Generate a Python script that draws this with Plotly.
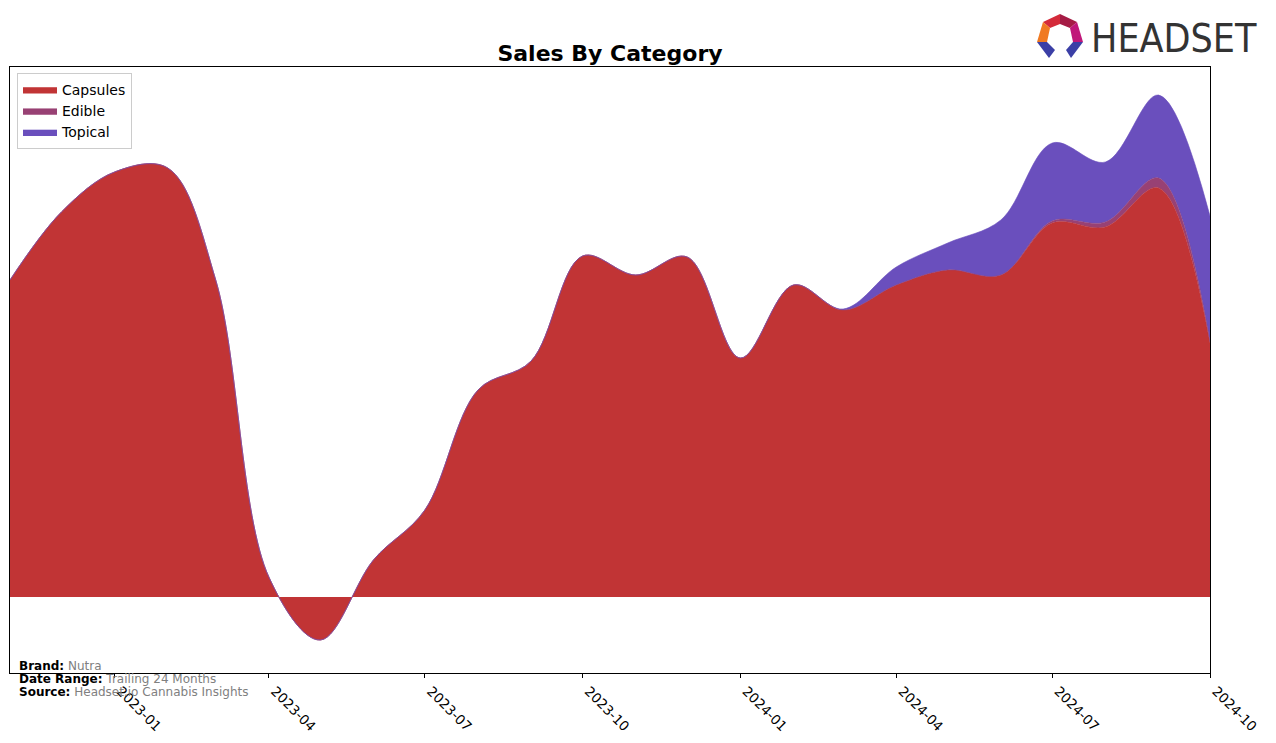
import plotly.graph_objects as go

months = ["2022-11-01", "2022-12-01", "2023-01-01", "2023-02-01", "2023-03-01", "2023-04-01",
          "2023-05-01", "2023-06-01", "2023-07-01", "2023-08-01", "2023-09-01", "2023-10-01",
          "2023-11-01", "2023-12-01", "2024-01-01", "2024-02-01", "2024-03-01", "2024-04-01",
          "2024-05-01", "2024-06-01", "2024-07-01", "2024-08-01", "2024-09-01", "2024-10-01"]

capsules = [317, 385, 425, 429, 317, 20, -43, 37, 87, 207, 236, 341,
            322, 340, 239, 312, 287, 312, 327, 322, 374, 370, 409, 254]
edible = [0, 0, 0, 0, 0, 0, 0, 0, 0, 0, 0, 0,
          0, 0, 0, 0, 0, 0, 0, 0, 2, 5, 10, 1]
topical = [0, 0, 0, 0, 0, 0, 0, 0, 0, 0, 0, 0,
           0, 0, 0, 0, 1, 18, 27, 55, 78, 60, 83, 126]

series = [("Capsules", capsules, "#c13435"),
          ("Edible", edible, "#984174"),
          ("Topical", topical, "#6a4fbd")]

tick_vals = ["2023-01-01", "2023-04-01", "2023-07-01", "2023-10-01",
             "2024-01-01", "2024-04-01", "2024-07-01", "2024-10-01"]
tick_text = ["2023-01", "2023-04", "2023-07", "2023-10",
             "2024-01", "2024-04", "2024-07", "2024-10"]

fig = go.Figure()
for name, vals, col in series:
    fig.add_trace(go.Scatter(
        x=months, y=vals, name=name, mode="lines",
        stackgroup="one", line=dict(shape="spline", smoothing=1.0, width=0.6, color=col),
        fillcolor=col, hoverinfo="x+y+name"))

OFF = 8  # default page body margin
W, H = 1276 - 2 * OFF, 743 - 2 * OFF
L, R, T, B = 10, 1210, 67, 673  # plot area in page pixels


def px(x):
    return (x - L) / (R - L)


def py(y):
    return (B - y) / (B - T)


fig.update_layout(
    width=W, height=H,
    margin=dict(l=L - OFF, r=(W + OFF) - R, t=T - OFF, b=(H + OFF) - B, autoexpand=False),
    plot_bgcolor="white", paper_bgcolor="white",
    font=dict(family="DejaVu Sans", color="black"),
    title=dict(text="<b>Sales By Category</b>", x=(0.5 * (L + R) - OFF) / W, xanchor="center",
               y=1 - (53 - OFF) / H, yanchor="middle", font=dict(size=22, family="DejaVu Sans")),
    showlegend=True,
    legend=dict(x=px(17), y=py(73), xanchor="left", yanchor="top",
                bgcolor="white", bordercolor="#cccccc", borderwidth=1,
                font=dict(size=14), tracegroupgap=0, itemwidth=34,
                traceorder="normal"),
    xaxis=dict(range=["2022-11-01", "2024-10-01"], type="date",
               tickvals=tick_vals, ticktext=tick_text, tickangle=45,
               ticks="outside", ticklen=4, tickcolor="black", ticklabelshift=6,
               showgrid=False, zeroline=False,
               showline=True, linecolor="black", linewidth=1, mirror=True,
               tickfont=dict(size=13.5, color="black")),
    yaxis=dict(range=[597 - 673, 597 - 67], showticklabels=False, ticks="",
               showgrid=False, zeroline=False,
               showline=True, linecolor="black", linewidth=1, mirror=True),
)

# footer text
foot = [("Brand:", "Nutra", 666), ("Date Range:", "Trailing 24 Months", 679),
        ("Source:", "Headset.io Cannabis Insights", 692)]
for lab, val, yy in foot:
    fig.add_annotation(xref="paper", yref="paper", x=px(17), y=py(yy),
                       xanchor="left", yanchor="middle", showarrow=False,
                       text=f"<b>{lab}</b> <span style='color:#808080'>{val}</span>",
                       font=dict(size=12, family="DejaVu Sans", color="black"))

# logo text
fig.add_annotation(xref="paper", yref="paper", x=px(1089), y=py(38),
                   xanchor="left", yanchor="middle", showarrow=False,
                   text="HEADSET",
                   font=dict(size=39, family="DejaVu Sans Condensed, Liberation Sans Narrow, Open Sans",
                             color="#333333"))

# logo icon (approximate polygons)
polys = [
    ([(1043, 22), (1060, 14), (1060, 24), (1050, 28)], "#d42a3a"),
    ([(1060, 14), (1077, 22), (1070, 28), (1060, 24)], "#a51c45"),
    ([(1077, 22), (1083, 42), (1073, 42), (1070, 28)], "#c0187a"),
    ([(1043, 22), (1050, 28), (1047, 42), (1037, 42)], "#f07a22"),
    ([(1037, 42), (1047, 42), (1055, 50), (1049, 58)], "#3b3fa6"),
    ([(1083, 42), (1073, 42), (1066, 50), (1071, 58)], "#3b3fa6"),
]
for pts, col in polys:
    path = "M " + " L ".join(f"{px(x)},{py(y)}" for x, y in pts) + " Z"
    fig.add_shape(type="path", xref="paper", yref="paper", path=path,
                  fillcolor=col, line=dict(width=0))

fig.write_html("out.html")
